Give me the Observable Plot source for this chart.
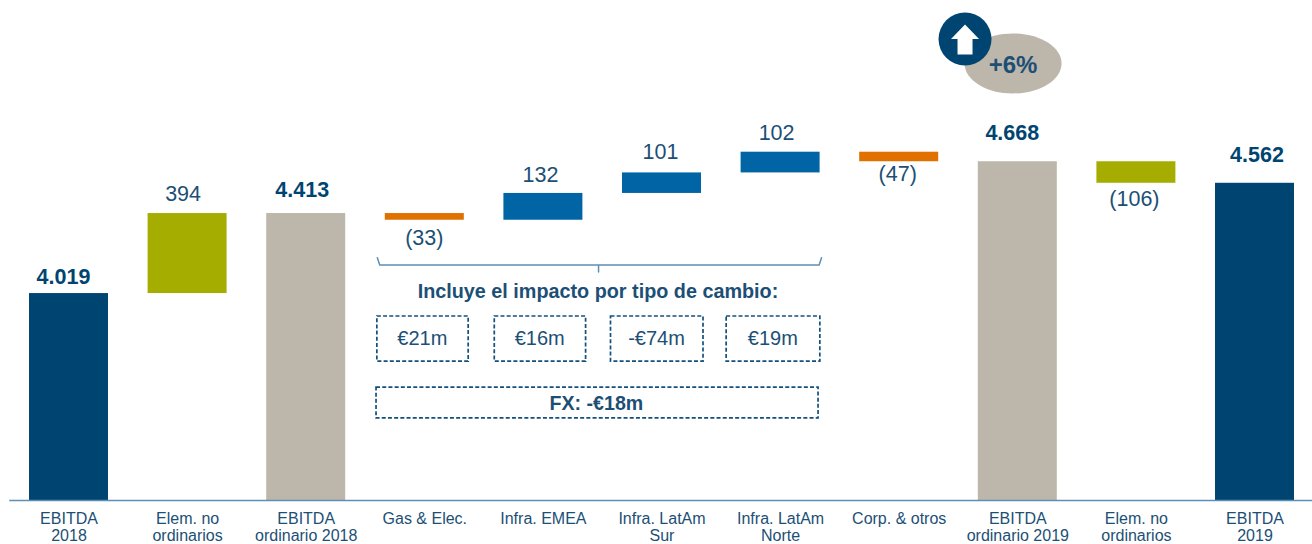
<!DOCTYPE html>
<html><head><meta charset="utf-8">
<script src="https://cdn.jsdelivr.net/npm/d3@7"></script>
<script src="https://cdn.jsdelivr.net/npm/@observablehq/plot@0.6"></script>
<style>html,body{margin:0;padding:0;background:#fff;overflow:hidden}svg{display:block}</style>
</head><body><div id="chart"></div>
<script>
const categories = ["EBITDA\n2018","Elem. no\nordinarios","EBITDA\nordinario 2018","Gas & Elec.","Infra. EMEA","Infra. LatAm\nSur","Infra. LatAm\nNorte","Corp. & otros","EBITDA\nordinario 2019","Elem. no\nordinarios","EBITDA\n2019"];
const values = [4019,394,4413,-33,132,101,102,-47,4668,-106,4562];
const valueLabels = ["4.019","394","4.413","(33)","132","101","102","(47)","4.668","(106)","4.562"];
const kinds = ["total","extra","sub","down","up","up","up","down","sub","extra","total"];
const fxLabels = ["€21m","€16m","-€74m","€19m"];
const fxStart = [2.60,3.59,4.57,5.545];
const fxEnd = [3.37,4.36,5.35,6.335];

const navy="#004571", stone="#bdb6ab", olive="#a5ae00", blue="#0064a5", orange="#e07000", ink="#1c4f75", line="#5f8fb4";
const colorOf={total:navy,sub:stone,extra:olive,up:blue,down:orange};
const halfBar=0.333, base=3000;
// label nudges in pixels, relative to the bar end each label hangs from
const nudgeX=[-5.5,-4.5,-4,-0.5,-3,-1.5,-4,-1.5,-5.5,-2,2];
const nudgeY=[-16,-19,-23,18,-18.5,-20.5,-19,12,-29,16,-28];

let run=0;
const bars=values.map((v,i)=>{
  const isTotal=kinds[i]==="total"||kinds[i]==="sub";
  const lo=isTotal?base:Math.min(run,run+v), hi=isTotal?v:Math.max(run,run+v);
  run=isTotal?v:run+v;
  return {i,lo,hi,kind:kinds[i],label:valueLabels[i],neg:v<0,total:isTotal};
});
const font="'Liberation Sans',Arial,sans-serif";
const ellipse=(rx,ry)=>({draw(c){const k=0.5523;c.moveTo(-rx,0);
  c.bezierCurveTo(-rx,-ry*k,-rx*k,-ry,0,-ry);c.bezierCurveTo(rx*k,-ry,rx,-ry*k,rx,0);
  c.bezierCurveTo(rx,ry*k,rx*k,ry,0,ry);c.bezierCurveTo(-rx*k,ry,-rx,ry*k,-rx,0);c.closePath();}});
const arrow={draw(c){[[0,-14.5],[14,0],[7.5,0],[7.5,15.5],[-7.5,15.5],[-7.5,0],[-14,0]].forEach((p,j)=>j?c.lineTo(...p):c.moveTo(...p));c.closePath();}};

const dash={fill:"none",stroke:"#14507c",strokeWidth:1.7,strokeDasharray:"4 2.2"};
const boxY1=3684, boxY2=3906, fxY1=3404, fxY2=3556;
const chart=Plot.plot({
  width:1312,height:544,marginTop:0,marginBottom:44,marginLeft:0,marginRight:0,
  style:{fontFamily:font,background:"#fff"},
  x:{type:"linear",domain:[-0.5,10.5],range:[9.2,1313.8],axis:null},
  y:{domain:[base,5462],axis:null},
  marks:[
    Plot.rect(bars,{x1:d=>d.i-halfBar,x2:d=>d.i+halfBar,y1:"lo",y2:"hi",fill:d=>colorOf[d.kind]}),
    Plot.ruleY([base],{x1:-0.5,x2:10.5,stroke:line,strokeWidth:1.5}),
    Plot.axisX({ticks:d3.range(categories.length),tickFormat:i=>categories[i],tickSize:0,tickPadding:11,fontSize:16,lineHeight:1.06,color:ink,fill:ink,label:null}),
    ...bars.map(d=>Plot.text([d],{x:"i",y:d.neg?"lo":"hi",text:"label",dx:nudgeX[d.i],dy:nudgeY[d.i],
      fontSize:21.5,fontWeight:d.total?"bold":"normal",fill:d.total?navy:ink})),
    Plot.line([[2.6,4195],[2.62,4160],[4.465,4160],[4.465,4125],[4.465,4160],[6.325,4160],[6.345,4195]],{x:d=>d[0],y:d=>d[1],stroke:line,strokeWidth:1.5}),
    Plot.text(["Incluye el impacto por tipo de cambio:"],{x:4.46,y:4029,fontSize:19.8,fontWeight:"bold",fill:ink}),
    Plot.rect(fxLabels,{x1:(d,i)=>fxStart[i],x2:(d,i)=>fxEnd[i],y1:boxY1,y2:boxY2,...dash}),
    Plot.text(fxLabels,{x:(d,i)=>(fxStart[i]+fxEnd[i])/2,y:3795,text:d=>d,dx:-0.7,fontSize:20,fill:ink}),
    Plot.rect([0],{x1:2.593,x2:6.32,y1:fxY1,y2:fxY2,...dash}),
    Plot.text(["FX: -€18m"],{x:4.447,y:3478,fontSize:19.6,fontWeight:"bold",fill:ink}),
    Plot.dot([0],{x:7.96,y:5152,r:10,symbol:ellipse(48.5,30),fill:stone,stroke:"none"}),
    Plot.dot([0],{x:7.555,y:5272,r:26.5,fill:navy,stroke:"none"}),
    Plot.dot([0],{x:7.555,y:5272,r:10,symbol:arrow,fill:"#fff",stroke:"none"}),
    Plot.text(["+6%"],{x:7.96,y:5144,fontSize:24,fontWeight:"bold",fill:ink})
  ]
});
document.getElementById("chart").appendChild(chart);
</script></body></html>
